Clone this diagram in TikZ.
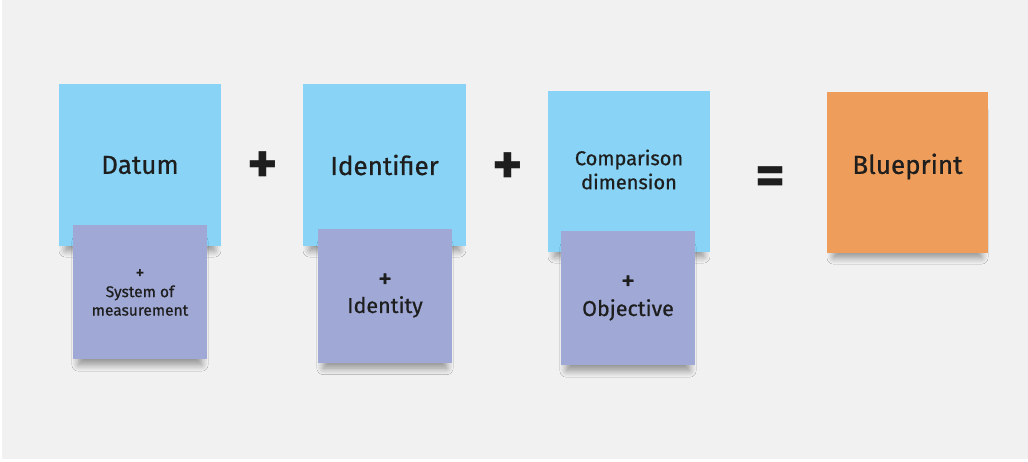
\documentclass[tikz,border=0pt]{standalone}
\usepackage{fontspec}
\setmainfont{Fira Sans}[BoldFont={* Bold}]
\newfontfamily\midweight{Fira Sans}[FakeBold=0.7]
\usetikzlibrary{shadows.blur}
\definecolor{bgray}{HTML}{F1F1F1}
\definecolor{skyblue}{HTML}{88D3F6}
\definecolor{lilac}{HTML}{A0A9D5}
\definecolor{orangey}{HTML}{EE9E5A}
\definecolor{ink}{HTML}{1E1E1E}
\tikzset{
  note/.style={draw=none, inner sep=0pt, align=center, text=ink,
    blur shadow={shadow xshift=0pt, shadow yshift=-12pt, shadow blur radius=7pt, shadow blur steps=12, shadow opacity=40, shadow scale=0.92}},
  bignote/.style={note, minimum width=162pt, minimum height=162pt},
  smallnote/.style={note, fill=lilac, minimum width=134pt, minimum height=134pt},
  bigtext/.style={font=\midweight\fontsize{26}{32}\selectfont, text=ink},
  optext/.style={font=\bfseries\fontsize{58}{58}\selectfont, text=ink, inner sep=0pt}
}
\begin{document}
\begin{tikzpicture}[x=1pt,y=-1pt]
\useasboundingbox (0,0) rectangle (1028,461);
\fill[white] (0,0) rectangle (1028,461);
\fill[bgray] (2,0) rectangle (1028,459);
% blue notes
\node[bignote, fill=skyblue] (b1) at (140,165) {};
\node[bignote, fill=skyblue, minimum width=163pt] (b2) at (384.5,165) {};
\node[bignote, fill=skyblue, minimum height=161pt] (b3) at (629,171.5) {};
\node[bignote, fill=orangey, minimum width=161pt, minimum height=161pt] (b4) at (907.5,172.5) {};
% texts on big notes
\node[bigtext] (t1) at (b1.center) {Datum};
\node[bigtext] (t2) at (b2.center) {Identifier};
\node[font=\midweight\fontsize{20}{24}\selectfont, text=ink, align=center] (t3) at ([yshift=2pt]b3.center) {Comparison\\dimension};
\node[bigtext] (t4) at ([yshift=6pt]b4.center) {Blueprint};
% purple notes
\node[smallnote] (p1) at (140,292) {};
\node[smallnote] (p2) at (385,295.5) {};
\node[smallnote] (p3) at (628,298) {};
\node[font=\midweight\fontsize{15.5}{18.5}\selectfont, align=center, text=ink] (s1) at ([yshift=-0.5pt]p1.center)
  {{\fontsize{18}{18}\selectfont +}\\System of\\measurement};
\node[font=\midweight\fontsize{21.5}{25}\selectfont, align=center, text=ink] (s2) at (p2.center)
  {{\fontsize{28}{24}\selectfont +}\\Identity};
\node[font=\midweight\fontsize{21.5}{26}\selectfont, align=center, text=ink] (s3) at (p3.center)
  {{\fontsize{28}{24}\selectfont +}\\Objective};
% operators
\node[optext] (op1) at (263,168) {+};
\node[optext] (op2) at (508,169) {+};
\node[optext] (op3) at (771,181) {=};
\end{tikzpicture}
\end{document}
